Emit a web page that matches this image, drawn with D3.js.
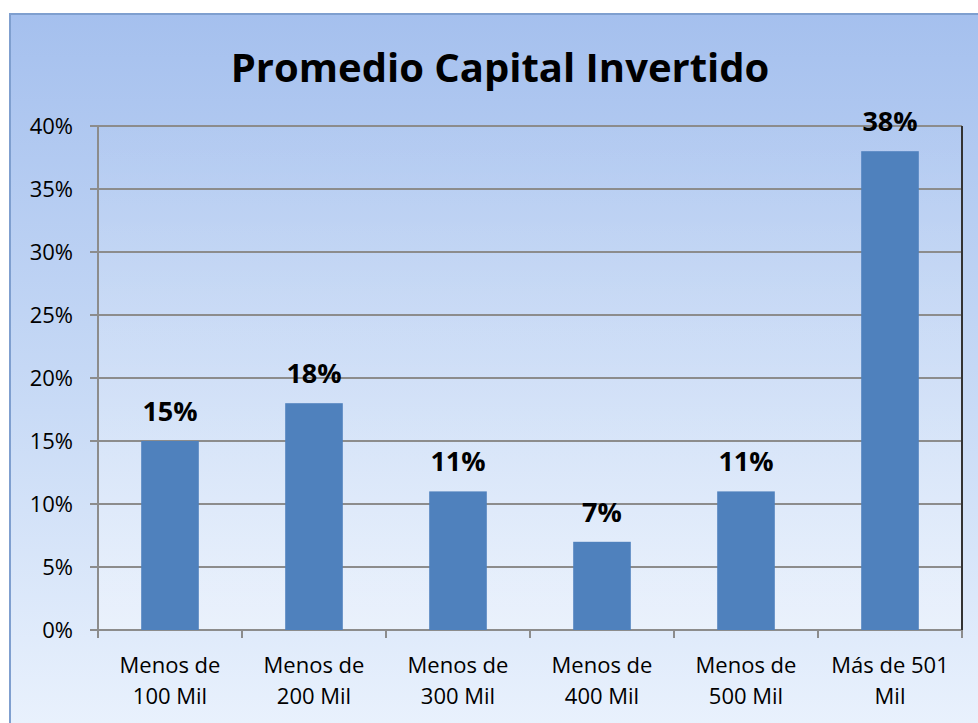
<!DOCTYPE html>
<html>
<head>
<meta charset="utf-8">
<title>Promedio Capital Invertido</title>
<script src="https://cdn.jsdelivr.net/npm/d3@7/dist/d3.min.js"></script>
<style>
  html, body { margin: 0; padding: 0; background: #ffffff; }
  svg { display: block; }
  text { font-family: "Open Sans", "Noto Sans", sans-serif; fill: #000; }
</style>
</head>
<body>
<svg id="chart" width="978" height="723"></svg>
<script>
// data
var categories = [["Menos de", "100 Mil"], ["Menos de", "200 Mil"], ["Menos de", "300 Mil"],
                  ["Menos de", "400 Mil"], ["Menos de", "500 Mil"], ["Más de 501", "Mil"]];
var values = [15, 18, 11, 7, 11, 38];
var yTicks = [0, 5, 10, 15, 20, 25, 30, 35, 40];
var title = "Promedio Capital Invertido";

var svg = d3.select("#chart");
var W = 978, H = 723;
var plot = { left: 98, right: 962, top: 126, bottom: 630 };

// background gradient
var defs = svg.append("defs");
var bg = defs.append("linearGradient").attr("id", "bg").attr("x1", 0).attr("y1", 0).attr("x2", 0).attr("y2", 1);
bg.append("stop").attr("offset", "0%").attr("stop-color", "#a5c0ee");
bg.append("stop").attr("offset", "55%").attr("stop-color", "#c9dbf6");
bg.append("stop").attr("offset", "100%").attr("stop-color", "#eaf2fd");

var pg = defs.append("linearGradient").attr("id", "pg").attr("x1", 0).attr("y1", 0).attr("x2", 0).attr("y2", 1);
pg.append("stop").attr("offset", "0%").attr("stop-color", "#ffffff").attr("stop-opacity", 0.03);
pg.append("stop").attr("offset", "100%").attr("stop-color", "#ffffff").attr("stop-opacity", 0.35);

svg.append("rect").attr("x", 10).attr("y", 14).attr("width", W).attr("height", H)
  .attr("fill", "url(#bg)").attr("stroke", "#7f9fcf").attr("stroke-width", 2);

svg.append("rect").attr("x", plot.left).attr("y", plot.top)
  .attr("width", plot.right - plot.left).attr("height", plot.bottom - plot.top)
  .attr("fill", "url(#pg)");

// scales
var x = d3.scaleBand().domain(d3.range(categories.length))
  .range([plot.left, plot.right]).paddingInner(0.6).paddingOuter(0.3);
var xEdge = d3.scaleLinear().domain([0, categories.length]).range([plot.left, plot.right]);
var y = d3.scaleLinear().domain([0, 40]).range([plot.bottom, plot.top]);

// gridlines
svg.append("g").selectAll("line").data(yTicks).join("line")
  .attr("x1", plot.left - 8).attr("x2", plot.right)
  .attr("y1", function (d) { return y(d); }).attr("y2", function (d) { return y(d); })
  .attr("stroke", "#8c8c8c").attr("stroke-width", 2);

// y labels
svg.append("g").selectAll("text").data(yTicks).join("text")
  .attr("x", 73).attr("y", function (d) { return y(d) + 8; })
  .attr("text-anchor", "end").attr("font-size", 22)
  .text(function (d) { return d + "%"; });

// bars
svg.append("g").selectAll("rect").data(values).join("rect")
  .attr("x", function (d, i) { return x(i); })
  .attr("y", function (d) { return y(d); })
  .attr("width", x.bandwidth())
  .attr("height", function (d) { return y(0) - y(d); })
  .attr("fill", "#4f81bd");

// value labels
svg.append("g").selectAll("text").data(values).join("text")
  .attr("x", function (d, i) { return x(i) + x.bandwidth() / 2; })
  .attr("y", function (d) { return y(d) - 20; })
  .attr("text-anchor", "middle").attr("font-size", 27).attr("font-weight", "bold")
  .text(function (d) { return d + "%"; });

// axes lines
svg.append("line").attr("x1", plot.left).attr("x2", plot.left)
  .attr("y1", plot.top).attr("y2", plot.bottom + 8)
  .attr("stroke", "#8c8c8c").attr("stroke-width", 2);
svg.append("line").attr("x1", plot.right).attr("x2", plot.right)
  .attr("y1", plot.top).attr("y2", plot.bottom)
  .attr("stroke", "#333", ).attr("stroke-width", 2);
svg.append("g").selectAll("line").data(d3.range(categories.length + 1)).join("line")
  .attr("x1", function (d) { return xEdge(d); }).attr("x2", function (d) { return xEdge(d); })
  .attr("y1", plot.bottom).attr("y2", plot.bottom + 8)
  .attr("stroke", "#8c8c8c").attr("stroke-width", 2);

// category labels
var cat = svg.append("g").selectAll("text").data(categories).join("text")
  .attr("text-anchor", "middle").attr("font-size", 22);
cat.each(function (d, i) {
  var t = d3.select(this);
  d.forEach(function (line, k) {
    t.append("tspan").attr("x", x(i) + x.bandwidth() / 2).attr("y", 673 + k * 31).text(line);
  });
});

// title
svg.append("text").attr("x", 500).attr("y", 82).attr("text-anchor", "middle")
  .attr("font-size", 40).attr("font-weight", "bold").text(title);
</script>
</body>
</html>
